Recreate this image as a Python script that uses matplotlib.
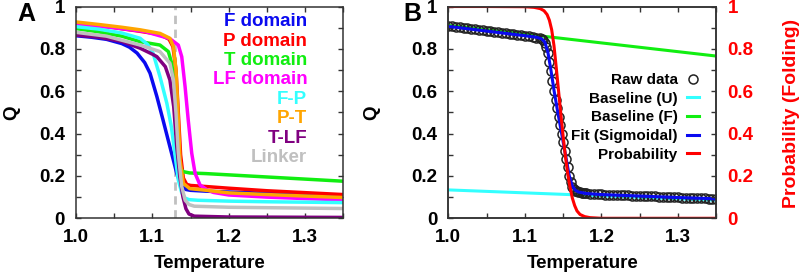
import numpy as np
import matplotlib
matplotlib.use('Agg')
import matplotlib.pyplot as plt

plt.rcParams['font.family'] = ['Liberation Sans', 'DejaVu Sans']
plt.rcParams['font.weight'] = 'bold'
plt.rcParams['axes.labelweight'] = 'bold'

# ---- panel A : Q vs temperature for each domain / interface ----
f_t = [1.0, 1.02, 1.04, 1.06, 1.07, 1.08, 1.09, 1.097, 1.106, 1.114, 1.123, 1.132, 1.138, 1.144, 1.15, 1.17, 1.2, 1.25, 1.3, 1.35]
f_q = [0.862, 0.855, 0.845, 0.825, 0.808, 0.78, 0.735, 0.685, 0.574, 0.464, 0.338, 0.212, 0.152, 0.136, 0.132, 0.128, 0.124, 0.118, 0.113, 0.108]

p_t = [1.0, 1.04, 1.08, 1.11, 1.122, 1.127, 1.131, 1.134, 1.137, 1.1406, 1.145, 1.15, 1.17, 1.2, 1.25, 1.3, 1.35]
p_q = [0.92, 0.905, 0.885, 0.868, 0.845, 0.81, 0.70, 0.50, 0.30, 0.19, 0.16, 0.155, 0.15, 0.142, 0.13, 0.121, 0.112]

t_t = [1.0, 1.03, 1.06, 1.084, 1.11, 1.121, 1.1254, 1.128, 1.13, 1.132, 1.134, 1.137, 1.1406, 1.149, 1.17, 1.2, 1.25, 1.3, 1.35]
t_q = [0.896, 0.88, 0.86, 0.834, 0.818, 0.787, 0.732, 0.66, 0.56, 0.42, 0.28, 0.235, 0.22, 0.214, 0.211, 0.205, 0.195, 0.185, 0.175]

lf_t = [1.0, 1.05, 1.09, 1.123, 1.134, 1.1385, 1.1429, 1.147, 1.1516, 1.156, 1.1625, 1.171, 1.18, 1.2, 1.25, 1.3, 1.35]
lf_q = [0.915, 0.9, 0.882, 0.848, 0.818, 0.763, 0.621, 0.464, 0.307, 0.212, 0.157, 0.136, 0.122, 0.11, 0.1, 0.093, 0.087]

fp_t = [1.0, 1.03, 1.06, 1.084, 1.094, 1.101, 1.11, 1.119, 1.125, 1.13, 1.134, 1.1385, 1.143, 1.148, 1.16, 1.2, 1.25, 1.3, 1.35]
fp_q = [0.905, 0.893, 0.875, 0.85, 0.82, 0.779, 0.669, 0.543, 0.43, 0.291, 0.181, 0.12, 0.095, 0.088, 0.085, 0.081, 0.078, 0.076, 0.074]

pt_t = [1.0, 1.03, 1.06, 1.084, 1.11, 1.123, 1.1276, 1.131, 1.134, 1.1363, 1.1406, 1.149, 1.171, 1.2, 1.25, 1.3, 1.35]
pt_q = [0.927, 0.915, 0.902, 0.89, 0.873, 0.85, 0.81, 0.70, 0.464, 0.275, 0.165, 0.14, 0.132, 0.12, 0.112, 0.105, 0.098]

tlf_t = [1.0, 1.03, 1.06, 1.084, 1.1, 1.106, 1.117, 1.123, 1.128, 1.132, 1.136, 1.14, 1.144, 1.148, 1.155, 1.2, 1.35]
tlf_q = [0.865, 0.855, 0.835, 0.803, 0.775, 0.763, 0.716, 0.653, 0.527, 0.338, 0.196, 0.102, 0.045, 0.02, 0.01, 0.006, 0.004]

lk_t = [1.0, 1.04, 1.084, 1.11, 1.123, 1.1276, 1.131, 1.134, 1.1385, 1.143, 1.148, 1.155, 1.2, 1.25, 1.3, 1.35]
lk_q = [0.878, 0.86, 0.818, 0.787, 0.732, 0.653, 0.496, 0.307, 0.15, 0.085, 0.065, 0.057, 0.052, 0.05, 0.048, 0.046]

tm_line = 1.13

names_a = ['F domain', 'P domain', 'T domain', 'LF domain', 'F-P', 'P-T', 'T-LF', 'Linker']
colors_a = ['#0a0af0', '#ff0000', '#11ee11', '#ff00ff', '#33ffff', '#ffa500', '#800080', '#c0c0c0']
curves_a = [(f_t, f_q), (p_t, p_q), (t_t, t_q), (lf_t, lf_q),
            (fp_t, fp_q), (pt_t, pt_q), (tlf_t, tlf_q), (lk_t, lk_q)]

# ---- panel B : two-state fit ----
raw_t = [1.000, 1.005, 1.010, 1.015, 1.020, 1.025, 1.030, 1.035, 1.040, 1.045,
         1.050, 1.055, 1.060, 1.065, 1.070, 1.075, 1.080, 1.085, 1.090, 1.095,
         1.100, 1.105, 1.110, 1.115, 1.120,
         1.122, 1.124, 1.126, 1.128, 1.130, 1.132, 1.134, 1.136, 1.138, 1.140,
         1.142, 1.144, 1.146, 1.148, 1.150, 1.152, 1.154, 1.156, 1.158, 1.160,
         1.162, 1.164, 1.166, 1.168, 1.170, 1.172, 1.174, 1.176, 1.178, 1.180,
         1.185, 1.190, 1.195, 1.200, 1.205, 1.210, 1.215, 1.220, 1.225, 1.230,
         1.235, 1.240, 1.245, 1.250, 1.255, 1.260, 1.265, 1.270, 1.275, 1.280,
         1.285, 1.290, 1.295, 1.300, 1.305, 1.310, 1.315, 1.320, 1.325, 1.330,
         1.335, 1.340, 1.345, 1.350]
raw_q = [0.908, 0.906, 0.904, 0.901, 0.899, 0.897, 0.894, 0.892, 0.890, 0.887,
         0.885, 0.883, 0.880, 0.878, 0.876, 0.873, 0.871, 0.869, 0.866, 0.864,
         0.861, 0.859, 0.856, 0.853, 0.849,
         0.846, 0.840, 0.829, 0.810, 0.780, 0.740, 0.695, 0.648, 0.600, 0.560,
         0.520, 0.480, 0.440, 0.400, 0.360, 0.320, 0.280, 0.240, 0.200, 0.170,
         0.150, 0.138, 0.131, 0.127, 0.124, 0.122, 0.120, 0.119, 0.118, 0.117,
         0.115, 0.114, 0.113, 0.113, 0.112, 0.111, 0.111, 0.110, 0.109, 0.109,
         0.108, 0.107, 0.106, 0.106, 0.105, 0.104, 0.104, 0.103, 0.102, 0.101,
         0.101, 0.100, 0.099, 0.099, 0.098, 0.097, 0.096, 0.096, 0.095, 0.094,
         0.094, 0.093, 0.092, 0.092]

fit_t = [1.0, 1.05, 1.1, 1.115, 1.122, 1.126, 1.13, 1.134, 1.138, 1.142, 1.146, 1.15, 1.154, 1.158, 1.162, 1.166, 1.17, 1.18, 1.2, 1.25, 1.3, 1.35]
fit_q = [0.906, 0.884, 0.862, 0.855, 0.847, 0.832, 0.785, 0.70, 0.605, 0.52, 0.44, 0.36, 0.28, 0.20, 0.152, 0.132, 0.124, 0.117, 0.112, 0.105, 0.098, 0.092]

base_u_t = [1.0, 1.35]
base_u_q = [0.134, 0.085]
base_f_t = [1.0, 1.35]
base_f_q = [0.911, 0.766]

prob_t = [1.0, 1.05, 1.1, 1.112, 1.12, 1.125, 1.129, 1.132, 1.135, 1.138, 1.141, 1.144, 1.147, 1.15,
          1.153, 1.156, 1.159, 1.162, 1.165, 1.168, 1.172, 1.178, 1.185, 1.2, 1.25, 1.3, 1.35]
prob_p = [1.0, 1.0, 0.999, 0.996, 0.99, 0.98, 0.962, 0.935, 0.89, 0.815, 0.71, 0.6, 0.49, 0.385,
          0.29, 0.21, 0.145, 0.095, 0.06, 0.035, 0.018, 0.008, 0.003, 0.0, 0.0, 0.0, 0.0]

x_ticks = [1.0, 1.1, 1.2, 1.3]
x_labels = ['1.0', '1.1', '1.2', '1.3']
y_ticks = [0, 0.2, 0.4, 0.6, 0.8, 1.0]
y_labels = ['0', '0.2', '0.4', '0.6', '0.8', '1']

FS = 13.5
fig = plt.figure(figsize=(8, 2.77), dpi=100)
axA = fig.add_axes([0.095, 0.212, 0.334, 0.7645])
axB = fig.add_axes([0.5604, 0.212, 0.335, 0.7645])


def style(ax, mirror_y=True):
    ax.set_xlim(1.0, 1.35)
    ax.set_ylim(0, 1)
    ax.set_xticks(x_ticks, labels=x_labels)
    ax.set_yticks(y_ticks, labels=y_labels)
    ax.set_xticks(np.arange(1.05, 1.35, 0.1), minor=True)
    ax.set_yticks(np.arange(0.1, 1.0, 0.2), minor=True)
    ax.tick_params(which='both', direction='in', top=True, right=mirror_y,
                   length=3.5, width=1, labelsize=FS, pad=8, color='#333333')
    for s in ax.spines.values():
        s.set_linewidth(1.1)
        s.set_color('#333333')
    ax.set_xlabel('Temperature', fontsize=FS, labelpad=6)
    ax.set_ylabel('Q', fontsize=FS)


style(axA)
axA.yaxis.set_label_coords(-0.21, 0.5)
axA.axvline(tm_line, color='#c0c0c0', lw=2, ls=(0, (3, 2)), zorder=1)
for (tt, qq), c in zip(curves_a, colors_a):
    axA.plot(tt, qq, color=c, lw=2.5, solid_joinstyle='round', solid_capstyle='round', zorder=2)
for i, (n, c) in enumerate(zip(names_a, colors_a)):
    axA.text(0.865, 0.928 - i * 0.0915, n, color=c, fontsize=FS, ha='right', va='center',
             transform=axA.transAxes)

style(axB, mirror_y=False)
axB.yaxis.set_label_coords(-0.255, 0.5)
hu, = axB.plot(base_u_t, base_u_q, color='#33ffff', lw=2.2, label='Baseline (U)')
hf, = axB.plot(base_f_t, base_f_q, color='#11ee11', lw=2.2, label='Baseline (F)')
hr, = axB.plot(raw_t, raw_q, ls='none', marker='o', ms=6.5, mfc='none', mec='#222222',
               mew=1.1, label='Raw data')
hb, = axB.plot(fit_t, fit_q, color='#0a0af0', lw=2.2, solid_joinstyle='round', label='Fit (Sigmoidal)')

ax2 = axB.twinx()
ax2.set_ylim(0, 1)
ax2.set_yticks(y_ticks, labels=y_labels)
ax2.set_yticks(np.arange(0.1, 1.0, 0.2), minor=True)
ax2.tick_params(which='both', direction='in', length=3.5, width=1, labelsize=FS, pad=8,
                labelcolor='#ff0000', color='#333333')
for s in ax2.spines.values():
    s.set_linewidth(1.1)
    s.set_color('#333333')
hp, = ax2.plot(prob_t, prob_p, color='#ff0000', lw=2.2, solid_joinstyle='round', label='Probability')
ax2.set_ylabel('Probability (Folding)', color='#ff0000', fontsize=14)
ax2.yaxis.set_label_coords(1.25, 0.497)

leg = ax2.legend(handles=[hr, hu, hf, hb, hp], loc='upper right', bbox_to_anchor=(0.935, 0.685),
                 frameon=False, markerfirst=False, fontsize=11, handlelength=0.8,
                 handletextpad=0.6, labelspacing=0.3, borderpad=0, borderaxespad=0)

fig.text(0.033, 0.948, 'A', fontsize=18, ha='center', va='center')
fig.text(0.516, 0.948, 'B', fontsize=18, ha='center', va='center')

fig.savefig('out.png', dpi=100)
